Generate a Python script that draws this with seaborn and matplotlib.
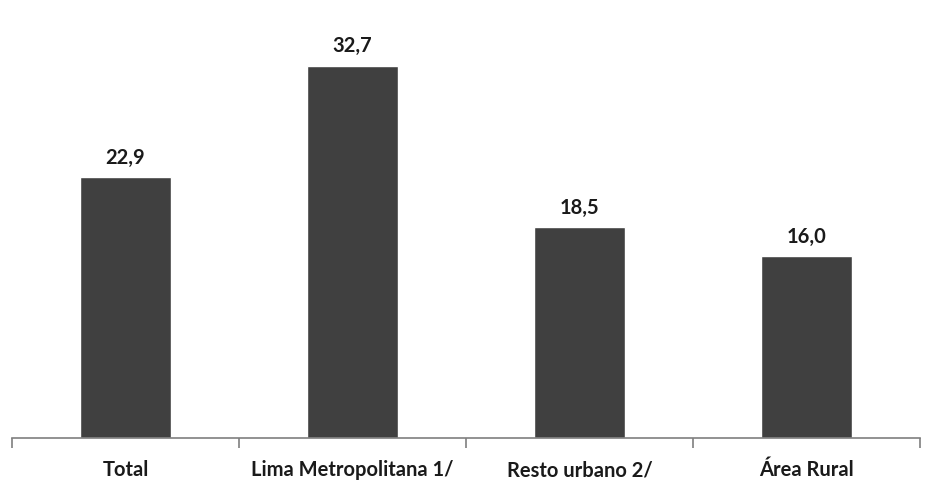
import matplotlib
matplotlib.use("Agg")
import matplotlib.pyplot as plt
import seaborn as sns
import pandas as pd

categorias = ["Total", "Lima Metropolitana 1/", "Resto urbano 2/", "Área Rural"]
valores = [22.9, 32.7, 18.5, 16.0]

sns.set_theme(style="white")
plt.rcParams["font.family"] = ["Lato", "DejaVu Sans"]

df = pd.DataFrame({"categoria": categorias, "valor": valores})

fig = plt.figure(figsize=(9.34, 4.93), dpi=100)
ax = fig.add_axes([0.0128, 0.1116, 0.9722, 0.8478])

sns.barplot(data=df, x="categoria", y="valor", color="#404040",
            saturation=1, width=0.4, ax=ax)

for i, v in enumerate(valores):
    ax.text(i, v + 0.8, f"{v:.1f}".replace(".", ","), ha="center", va="bottom",
            fontsize=14.5, fontweight="bold", color="#1a1a1a")

ax.set_xlim(-0.5, 3.5)
ax.set_ylim(0, 36.7)
ax.set_xlabel("")
ax.set_ylabel("")
ax.set_yticks([])
for s in ["top", "right", "left"]:
    ax.spines[s].set_visible(False)
ax.spines["bottom"].set_color("#7f7f7f")
ax.spines["bottom"].set_linewidth(1.2)

# category separators on the x axis
ax.set_xticks([-0.5, 0.5, 1.5, 2.5, 3.5], minor=True)
ax.tick_params(axis="x", which="minor", bottom=True, length=7, width=1.2, color="#7f7f7f")
ax.tick_params(axis="x", which="major", bottom=False, length=0, pad=16,
               labelsize=14.5, labelcolor="#1a1a1a")
for lab in ax.get_xticklabels():
    lab.set_fontweight("bold")

fig.savefig("out.png", dpi=100)
